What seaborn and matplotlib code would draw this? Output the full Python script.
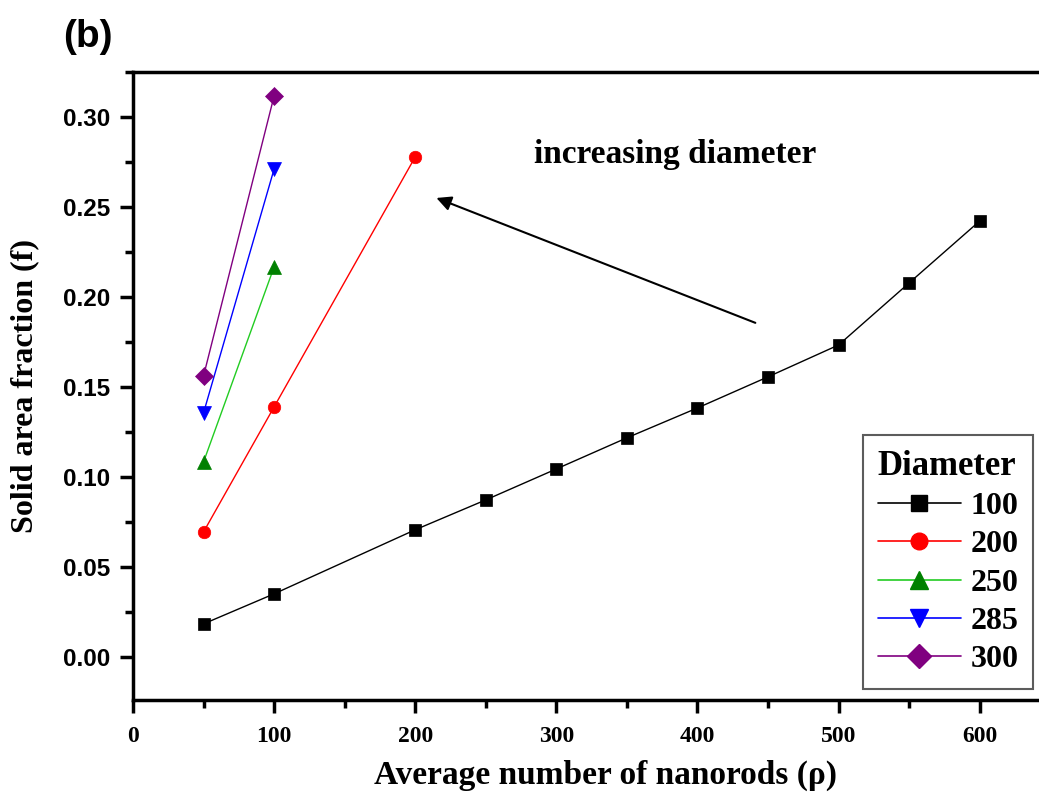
import matplotlib
matplotlib.use("Agg")
import matplotlib.pyplot as plt
import seaborn as sns
import pandas as pd
from matplotlib.ticker import MultipleLocator

sns.set_theme(style="ticks")
plt.rcParams['font.family'] = ['Liberation Serif', 'DejaVu Serif']
plt.rcParams['text.color'] = 'black'
plt.rcParams['axes.labelcolor'] = 'black'
plt.rcParams['xtick.color'] = 'black'
plt.rcParams['ytick.color'] = 'black'

# Data
x_100 = [50, 100, 200, 250, 300, 350, 400, 450, 500, 550, 600]
y_100 = [0.0183, 0.0350, 0.0706, 0.0872, 0.1044, 0.1217, 0.1383, 0.1556, 0.1733, 0.2078, 0.2422]
x_200 = [50, 100, 200]
y_200 = [0.0694, 0.1389, 0.2778]
x_250 = [50, 100]
y_250 = [0.1083, 0.2167]
x_285 = [50, 100]
y_285 = [0.1356, 0.2711]
x_300 = [50, 100]
y_300 = [0.1561, 0.3117]

diameters = ["100", "200", "250", "285", "300"]
series_x = [x_100, x_200, x_250, x_285, x_300]
series_y = [y_100, y_200, y_250, y_285, y_300]
line_colors = ["black", "#ff0000", "#22cc22", "#0000ff", "#800080"]
marker_colors = ["black", "#ff0000", "#008000", "#0000ff", "#800080"]
markers = ["s", "o", "^", "v", "D"]
msizes = [9, 9, 10, 10, 9]

fig = plt.figure(figsize=(10.39, 8.0), dpi=100)
ax = fig.add_axes([0.128, 0.125, 0.872, 0.785])

handles = []
for d, xs, ys, lc, mc, m, ms in zip(diameters, series_x, series_y, line_colors, marker_colors, markers, msizes):
    df = pd.DataFrame({"x": xs, "y": ys})
    sns.lineplot(data=df, x="x", y="y", ax=ax, color=lc, linewidth=1.0,
                 marker=m, markersize=ms, markerfacecolor=mc, markeredgecolor=mc,
                 markeredgewidth=0.5)
    h, = ax.plot([], [], color=lc, linewidth=1.2, marker=m, markersize=ms + 3,
                 markerfacecolor=mc, markeredgecolor=mc)
    handles.append(h)

ax.set_xlim(0, 642)
ax.set_ylim(-0.024, 0.325)
ax.xaxis.set_major_locator(MultipleLocator(100))
ax.xaxis.set_minor_locator(MultipleLocator(50))
ax.yaxis.set_major_locator(MultipleLocator(0.05))
ax.yaxis.set_minor_locator(MultipleLocator(0.025))
yt = [0.0, 0.05, 0.10, 0.15, 0.20, 0.25, 0.30]
xt = [0, 100, 200, 300, 400, 500, 600]
ax.set_yticks(yt)
ax.set_yticklabels([f"{v:.2f}" for v in yt],
                   fontfamily="Liberation Sans", fontweight="bold", fontsize=17.5)
ax.set_xticks(xt)
ax.set_xticklabels([str(v) for v in xt],
                   fontfamily="Liberation Serif", fontweight="bold", fontsize=17)

for s in ["left", "bottom", "top"]:
    ax.spines[s].set_linewidth(2.5)
    ax.spines[s].set_color("black")
ax.spines["right"].set_visible(False)
ax.tick_params(axis="both", which="major", direction="out", length=9.5, width=2.5,
               colors="black")
ax.tick_params(axis="both", which="minor", direction="out", length=5.5, width=2.5,
               colors="black")
ax.tick_params(axis="x", which="major", pad=9)
ax.tick_params(axis="y", which="major", pad=7)
ax.tick_params(top=False, right=False, which="both")

ax.set_xlabel("Average number of nanorods (ρ)", fontsize=24, fontweight="bold",
              fontfamily="Liberation Serif")
ax.xaxis.set_label_coords(0.521, -0.095)
ax.set_ylabel("Solid area fraction (f)", fontsize=23, fontweight="bold",
              fontfamily="Liberation Serif")
ax.yaxis.set_label_coords(-0.103, 0.5)

ax.text(384, 0.279, "increasing diameter", fontsize=24, fontweight="bold",
        fontfamily="Liberation Serif", ha="center", va="center")
ax.annotate("", xy=(215, 0.255), xytext=(441, 0.1856),
            arrowprops=dict(arrowstyle="-|>", color="black", lw=1.5,
                            mutation_scale=22, shrinkA=0, shrinkB=0))

leg = ax.legend(handles, diameters, title="Diameter", loc="lower right",
                bbox_to_anchor=(0.993, 0.018), frameon=True, fancybox=False,
                handlelength=2.6, handletextpad=0.3, borderpad=0.45,
                labelspacing=0.28, alignment="left", borderaxespad=0,
                prop={"family": "Liberation Serif", "weight": "bold", "size": 23})
leg.get_title().set_fontfamily("Liberation Serif")
leg.get_title().set_fontweight("bold")
leg.get_title().set_fontsize(25)
leg.get_frame().set_edgecolor("#333333")
leg.get_frame().set_linewidth(1.5)

fig.text(0.061, 0.954, "(b)", fontsize=28, fontweight="bold",
         fontfamily="Liberation Sans", ha="left", va="center")

fig.savefig("out.png", dpi=100)
